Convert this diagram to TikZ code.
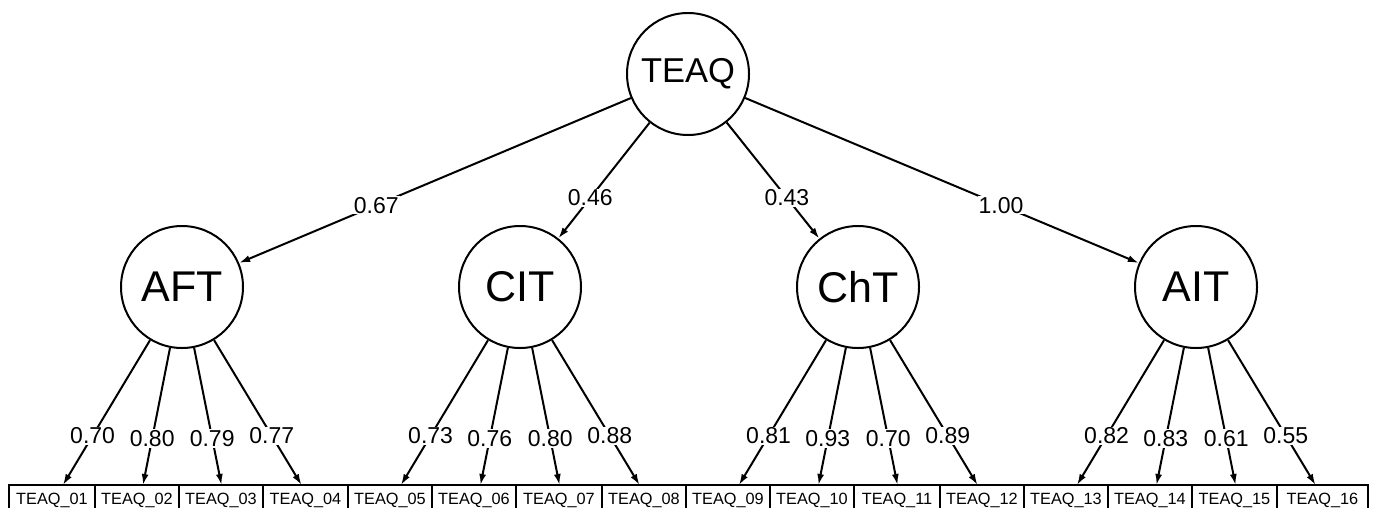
\documentclass[tikz,border=0pt]{standalone}
\usepackage{fontspec}
\setmainfont{Liberation Sans}
\usetikzlibrary{arrows.meta}
\begin{document}
\begin{tikzpicture}[x=1pt,y=-1pt,
  lat/.style={circle, draw, line width=2pt, minimum size=122pt, inner sep=0pt, font=\fontsize{43}{43}\selectfont},
  topl/.style={lat, font=\fontsize{34.5}{35}\selectfont},
  lbl/.style={fill=white, inner sep=1pt, font=\fontsize{23}{23}\selectfont},
  arr/.style={-{Latex[length=11pt,width=7pt]}, line width=2pt},
  ind/.style={draw, line width=1.8pt, anchor=north, outer sep=0pt, inner xsep=0pt, inner ysep=7.5pt,
     text height=11.8pt, text depth=2pt, minimum height=0pt, font=\fontsize{16.3}{17}\selectfont}]
\useasboundingbox (0,0) rectangle (1378,507);

\node[topl] (TEAQ) at (688,74) {TEAQ};
\node[lat] (AFT) at (182,287) {AFT};
\node[lat] (CIT) at (520,287) {CIT};
\node[lat] (ChT) at (858,287) {ChT};
\node[lat] (AIT) at (1196,287) {AIT};

\draw[arr] (TEAQ) -- node[lbl, pos=0.65] {0.67} (AFT);
\draw[arr] (TEAQ) -- node[lbl, pos=0.65] {0.46} (CIT);
\draw[arr] (TEAQ) -- node[lbl, pos=0.65] {0.43} (ChT);
\draw[arr] (TEAQ) -- node[lbl, pos=0.65] {1.00} (AIT);

\foreach \i/\c/\w in {01/52/86, 02/137/84, 03/221/84, 04/305.5/85, 05/390/84, 06/474/84, 07/559/86, 08/644/84,
  09/728/84, 10/812/84, 11/897/86, 12/982/84, 13/1066/84, 14/1150/84, 15/1234.5/85, 16/1322.5/91}
  \node[ind, minimum width=\w pt] (b\i) at (\c,485) {TEAQ\_\i};

\foreach \i/\x in {01/63, 02/143, 03/221.5, 04/301.5, 05/401, 06/480.5, 07/559.5, 08/639.5,
  09/739, 10/818.5, 11/897.5, 12/977.5, 13/1077, 14/1156.5, 15/1235.5, 16/1315.5}
  \coordinate (e\i) at (\x,485);

\draw[arr] (AFT) -- node[lbl, pos=0.66] {0.70} (e01);
\draw[arr] (AFT) -- node[lbl, pos=0.66] {0.80} (e02);
\draw[arr] (AFT) -- node[lbl, pos=0.66] {0.79} (e03);
\draw[arr] (AFT) -- node[lbl, pos=0.66] {0.77} (e04);
\draw[arr] (CIT) -- node[lbl, pos=0.66] {0.73} (e05);
\draw[arr] (CIT) -- node[lbl, pos=0.66] {0.76} (e06);
\draw[arr] (CIT) -- node[lbl, pos=0.66] {0.80} (e07);
\draw[arr] (CIT) -- node[lbl, pos=0.66] {0.88} (e08);
\draw[arr] (ChT) -- node[lbl, pos=0.66] {0.81} (e09);
\draw[arr] (ChT) -- node[lbl, pos=0.66] {0.93} (e10);
\draw[arr] (ChT) -- node[lbl, pos=0.66] {0.70} (e11);
\draw[arr] (ChT) -- node[lbl, pos=0.66] {0.89} (e12);
\draw[arr] (AIT) -- node[lbl, pos=0.66] {0.82} (e13);
\draw[arr] (AIT) -- node[lbl, pos=0.66] {0.83} (e14);
\draw[arr] (AIT) -- node[lbl, pos=0.66] {0.61} (e15);
\draw[arr] (AIT) -- node[lbl, pos=0.66] {0.55} (e16);
\end{tikzpicture}
\end{document}
